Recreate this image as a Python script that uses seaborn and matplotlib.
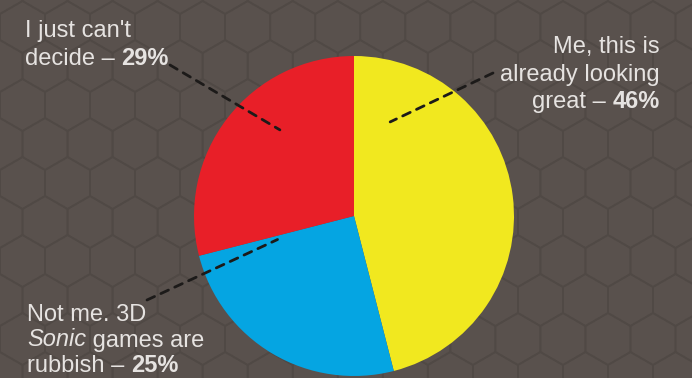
import numpy as np
import matplotlib
matplotlib.use("Agg")
import matplotlib.pyplot as plt
from matplotlib.patches import RegularPolygon
from matplotlib.transforms import IdentityTransform
import seaborn as sns

# Survey answers
answers = ["Me, this is already looking great",
           "Not me. 3D Sonic games are rubbish",
           "I just can't decide"]
shares = [46, 25, 29]
slice_colors = ["#f1e81f", "#05a5e2", "#e81f28"]

# label text per answer, line by line ("*...*" = italic); the % is added from shares
label_lines = [
    ["Me, this is", "already looking", "great – "],
    ["Not me. 3D", "*Sonic* games are", "rubbish – "],
    ["I just can't", "decide – "],
]

sns.set_theme(style="white")
plt.rcParams["font.family"] = ["Liberation Sans", "DejaVu Sans"]

W, H = 692, 378
bg = "#59514d"
fig = plt.figure(figsize=(W / 100, H / 100), dpi=100, facecolor=bg)

# subtle honeycomb backdrop
bgax = fig.add_axes([0, 0, 1, 1])
bgax.set_xlim(0, W)
bgax.set_ylim(0, H)
bgax.axis("off")
hr = 26
dx = np.sqrt(3) * hr
for row in range(-1, int(H / (1.5 * hr)) + 2):
    off = dx / 2 if row % 2 else 0
    for col in range(-1, int(W / dx) + 2):
        bgax.add_patch(RegularPolygon((col * dx + off, row * 1.5 * hr), 6, radius=hr,
                                      facecolor="none", edgecolor="#504945", lw=1.2))

# pie
ax = fig.add_axes([194 / W, 2 / H, 320 / W, 320 / H])
ax.pie(shares, colors=slice_colors, startangle=90, counterclock=False,
       wedgeprops=dict(linewidth=0))
ax.set_xlim(-1, 1)
ax.set_ylim(-1, 1)
ax.set_aspect("equal")
ax.axis("off")

renderer = fig.canvas.get_renderer()
txt_kw = dict(fontsize=17, color="#e6e3e1", va="baseline", transform=IdentityTransform())


def parse_runs(line):
    parts = line.split("*")
    return [(p, "italic" if i % 2 else "normal", "normal") for i, p in enumerate(parts) if p]


def draw_line(x, y, runs, ha="left"):
    # measure first, then lay runs side by side
    widths = []
    for text, style, weight in runs:
        t = fig.text(0, 0, text, style=style, weight=weight, **txt_kw)
        widths.append(t.get_window_extent(renderer).width)
        t.remove()
    start = x - sum(widths) if ha == "right" else x
    for (text, style, weight), w in zip(runs, widths):
        fig.text(start, H - y, text, style=style, weight=weight, **txt_kw)
        start += w


# label placement (pixels from top-left): x, first baseline, line step, alignment
label_pos = [(660, 53, 27.5, "right"), (27, 321, 25.5, "left"), (25, 37, 28, "left")]
# leader lines: start in pixels, end inside wedge (fraction through wedge, radius)
leader_start = [(493, 73), (147, 300), (170, 65)]
leader_anchor = [(0.127, 0.63), (0.97, 0.5), (0.61, 0.71)]

edges = np.concatenate([[0], np.cumsum(shares)]) / sum(shares) * 360
for i, lines in enumerate(label_lines):
    x, y0, step, ha = label_pos[i]
    for j, line in enumerate(lines):
        runs = parse_runs(line)
        if j == len(lines) - 1:
            runs.append((f"{shares[i]}%", "normal", "bold"))
        draw_line(x, y0 + j * step, runs, ha=ha)

    frac, r = leader_anchor[i]
    theta = np.deg2rad(edges[i] + frac * (edges[i + 1] - edges[i]))
    sx, sy = leader_start[i]
    ax.annotate("", xy=(r * np.sin(theta), r * np.cos(theta)), xycoords="data",
                xytext=(sx, H - sy), textcoords="figure pixels",
                arrowprops=dict(arrowstyle="-", color="#1c1a19", lw=2,
                                linestyle=(0, (3, 2.5)), shrinkA=0, shrinkB=0))

fig.savefig("out.png", dpi=100, facecolor=bg)
